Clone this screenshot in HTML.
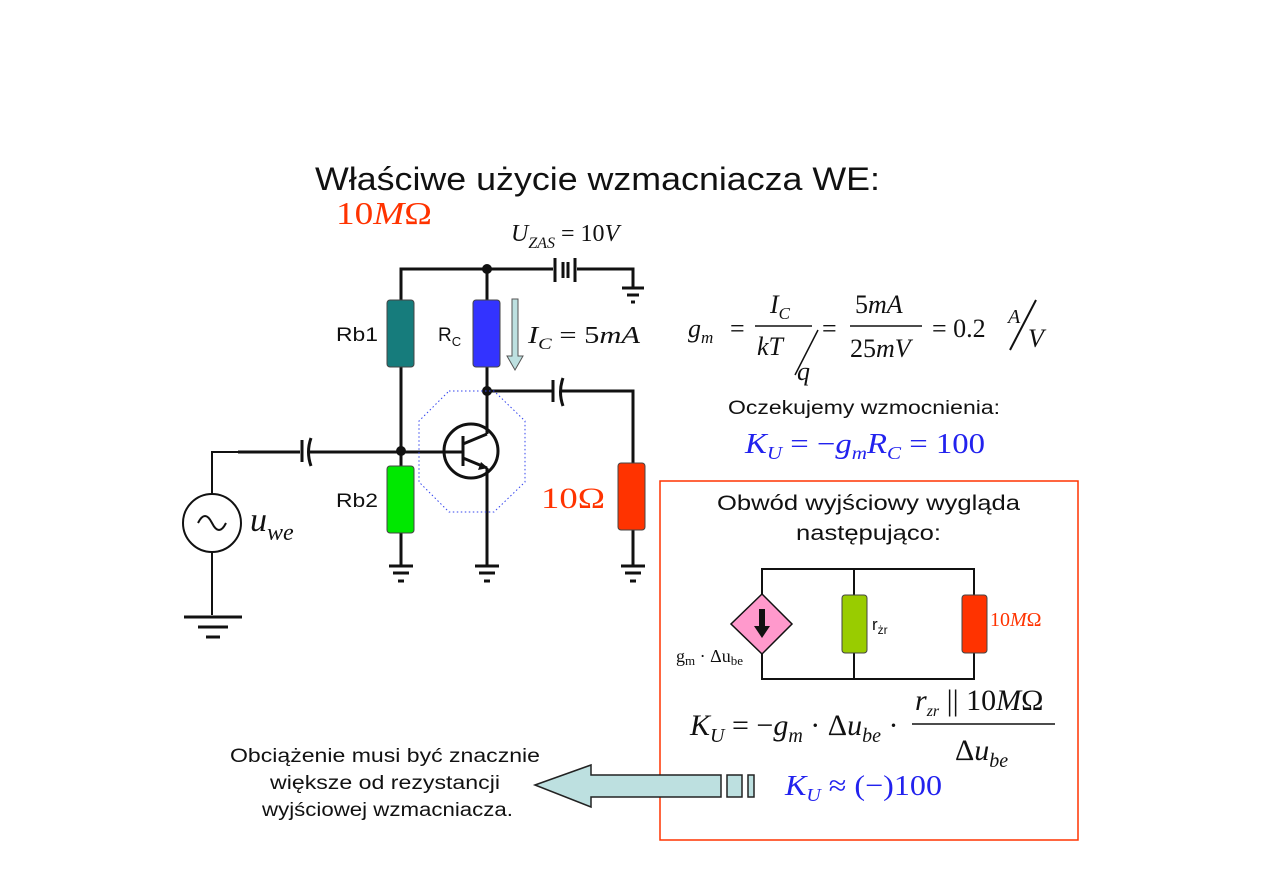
<!DOCTYPE html>
<html><head><meta charset="utf-8"><style>
body{margin:0;background:#fff;}
svg{display:block;}
.s{font-family:"Liberation Sans",sans-serif;}
.r{font-family:"Liberation Serif",serif;}
</style></head><body>
<svg width="1263" height="893" viewBox="0 0 1263 893" xmlns="http://www.w3.org/2000/svg">
<g stroke="#111" stroke-width="3" fill="none">
<polyline points="401,367 401,269 553,269"/>
<polyline points="577,269 633,269 633,288"/>
<line x1="487" y1="269" x2="487" y2="300"/>
<line x1="401" y1="367" x2="401" y2="466"/>
<line x1="487" y1="367" x2="487" y2="420"/>
<polyline points="487,391 553,391"/>
<polyline points="562,391 633,391 633,463"/>
<line x1="633" y1="530" x2="633" y2="565"/>
<line x1="238" y1="452" x2="300" y2="452"/>
<line x1="310" y1="452" x2="463" y2="452"/>
<line x1="401" y1="533" x2="401" y2="565"/>
<line x1="487" y1="480" x2="487" y2="565"/>
</g>
<g stroke="#111" stroke-width="2" fill="none">
<polyline points="238,452 212,452 212,494"/>
<line x1="212" y1="552" x2="212" y2="615"/>
<circle cx="212" cy="523" r="29"/>
<path d="M198,523 q7,-14 14,0 t14,0"/>
</g>
<g stroke="#111" stroke-width="3">
<line x1="555" y1="258" x2="555" y2="282"/><line x1="563" y1="262" x2="563" y2="278"/>
<line x1="568" y1="262" x2="568" y2="278"/><line x1="575" y1="258" x2="575" y2="282"/>
<line x1="302" y1="440" x2="302" y2="462"/><path d="M311,438 q-5,14 0,28" fill="none"/>
<line x1="553" y1="380" x2="553" y2="402"/><path d="M563,378 q-5,14 0,28" fill="none"/>
</g>
<g stroke="#111" stroke-width="3">
<line x1="622" y1="288" x2="644" y2="288"/><line x1="627" y1="295" x2="639" y2="295"/><line x1="631" y1="302" x2="635" y2="302"/>
<line x1="389" y1="566" x2="413" y2="566"/><line x1="393" y1="573" x2="409" y2="573"/><line x1="398" y1="581" x2="404" y2="581"/>
<line x1="475" y1="566" x2="499" y2="566"/><line x1="479" y1="573" x2="495" y2="573"/><line x1="484" y1="581" x2="490" y2="581"/>
<line x1="621" y1="566" x2="645" y2="566"/><line x1="625" y1="573" x2="641" y2="573"/><line x1="630" y1="581" x2="636" y2="581"/>
<line x1="184" y1="617" x2="242" y2="617"/><line x1="198" y1="627" x2="228" y2="627"/><line x1="206" y1="637" x2="220" y2="637"/>
</g>
<g fill="#111"><circle cx="487" cy="269" r="5"/><circle cx="487" cy="391" r="5"/><circle cx="401" cy="451" r="5"/></g>
<rect x="387" y="300" width="27" height="67" rx="3" fill="#167c7c" stroke="#444"/>
<rect x="473" y="300" width="27" height="67" rx="3" fill="#3333ff" stroke="#444"/>
<rect x="387" y="466" width="27" height="67" rx="3" fill="#00e800" stroke="#444"/>
<rect x="618" y="463" width="27" height="67" rx="3" fill="#ff3300" stroke="#444"/>
<polygon points="512,299 518,299 518,356 523,356 515,370 507,356 512,356" fill="#bde0e0" stroke="#555"/>
<circle cx="471" cy="451" r="27" fill="none" stroke="#111" stroke-width="3"/>
<g stroke="#111" stroke-width="3" fill="none">
<line x1="463" y1="436" x2="463" y2="466"/>
<line x1="463" y1="444" x2="487" y2="434"/><line x1="487" y1="434" x2="487" y2="420"/>
<line x1="463" y1="458" x2="487" y2="468"/><line x1="487" y1="468" x2="487" y2="480"/>
</g>
<polygon points="488,468 478,470 481,462" fill="#111"/>
<polygon points="449,391 494,391 525,421 525,482 494,512 449,512 419,482 419,421" fill="none" stroke="#3344ee" stroke-dasharray="1.5,2.5"/>
<text x="315" y="190" class="s" font-size="32" fill="#111" textLength="565" lengthAdjust="spacingAndGlyphs">Właściwe użycie wzmacniacza WE:</text>
<text x="336" y="224" class="r" font-size="32" fill="#ff3300" textLength="96" lengthAdjust="spacingAndGlyphs">10<tspan font-style="italic">M</tspan>Ω</text>
<text x="511" y="241" class="r" font-size="24" fill="#111"><tspan font-style="italic">U</tspan><tspan font-style="italic" font-size="16" dy="7">ZAS</tspan><tspan dy="-7"> = 10</tspan><tspan font-style="italic">V</tspan></text>
<text x="336" y="341" class="s" font-size="19" fill="#111" textLength="42" lengthAdjust="spacingAndGlyphs">Rb1</text>
<text x="438" y="341" class="s" font-size="19" fill="#111">R<tspan font-size="13" dy="5">C</tspan></text>
<text x="528" y="343" class="r" font-size="24" fill="#111" font-style="italic" textLength="112" lengthAdjust="spacingAndGlyphs">I<tspan font-size="16" dy="6">C</tspan><tspan dy="-6" font-style="normal"> = 5</tspan>mA</text>
<text x="336" y="507" class="s" font-size="19" fill="#111" textLength="42" lengthAdjust="spacingAndGlyphs">Rb2</text>
<text x="541" y="508" class="r" font-size="30" fill="#ff3300" textLength="64" lengthAdjust="spacingAndGlyphs">10Ω</text>
<text x="250" y="531" class="r" font-size="34" fill="#111" font-style="italic">u<tspan font-size="24" dy="9">we</tspan></text>
<g class="r" fill="#111" font-size="26">
<text x="688" y="337" font-style="italic">g<tspan font-size="17" dy="6">m</tspan></text>
<text x="730" y="337">=</text>
<text x="770" y="313" font-style="italic">I<tspan font-size="17" dy="6">C</tspan></text>
<line x1="755" y1="326" x2="812" y2="326" stroke="#111" stroke-width="1.5"/>
<text x="757" y="355" font-style="italic">kT</text>
<line x1="795" y1="375" x2="818" y2="330" stroke="#111" stroke-width="1.5"/>
<text x="797" y="380" font-style="italic">q</text>
<text x="822" y="337">=</text>
<text x="855" y="313">5<tspan font-style="italic">mA</tspan></text>
<line x1="850" y1="326" x2="922" y2="326" stroke="#111" stroke-width="1.5"/>
<text x="850" y="357">25<tspan font-style="italic">mV</tspan></text>
<text x="932" y="337">= 0.2</text>
<text x="1008" y="323" font-style="italic" font-size="20">A</text>
<line x1="1010" y1="350" x2="1036" y2="300" stroke="#111" stroke-width="2"/>
<text x="1028" y="347" font-style="italic">V</text>
</g>
<text x="728" y="414" class="s" font-size="19" fill="#111" textLength="272" lengthAdjust="spacingAndGlyphs">Oczekujemy wzmocnienia:</text>
<text x="745" y="453" class="r" font-size="28" fill="#2222ee" textLength="240" lengthAdjust="spacingAndGlyphs"><tspan font-style="italic">K</tspan><tspan font-style="italic" font-size="18" dy="6">U</tspan><tspan dy="-6"> = −</tspan><tspan font-style="italic">g</tspan><tspan font-style="italic" font-size="18" dy="6">m</tspan><tspan font-style="italic" dy="-6">R</tspan><tspan font-style="italic" font-size="18" dy="6">C</tspan><tspan dy="-6"> = 100</tspan></text>
<rect x="660" y="481" width="418" height="359" fill="none" stroke="#ff3300" stroke-width="1.5"/>
<text x="717" y="510" class="s" font-size="21" fill="#111" textLength="303" lengthAdjust="spacingAndGlyphs">Obwód wyjściowy wygląda</text>
<text x="796" y="540" class="s" font-size="21" fill="#111" textLength="145" lengthAdjust="spacingAndGlyphs">następująco:</text>
<g stroke="#111" stroke-width="2" fill="none">
<polyline points="762,595 762,569 974,569 974,595"/>
<polyline points="762,650 762,679 974,679 974,653"/>
<line x1="854" y1="569" x2="854" y2="595"/><line x1="854" y1="653" x2="854" y2="679"/>
</g>
<polygon points="762,594 792,624 762,654 731,624" fill="#ff99cc" stroke="#111" stroke-width="1.5"/>
<polygon points="759,609 765,609 765,626 770,626 762,638 754,626 759,626" fill="#111"/>
<rect x="842" y="595" width="25" height="58" rx="3" fill="#99cc00" stroke="#444"/>
<rect x="962" y="595" width="25" height="58" rx="3" fill="#ff3300" stroke="#444"/>
<text x="872" y="630" class="s" font-size="17" fill="#111">r<tspan font-size="12" dy="4">żr</tspan></text>
<text x="990" y="626" class="r" font-size="20" fill="#ff3300">10<tspan font-style="italic">M</tspan>Ω</text>
<text x="676" y="662" class="r" font-size="18" fill="#111">g<tspan font-size="13" dy="3">m</tspan><tspan dy="-3"> · Δu</tspan><tspan font-size="13" dy="3">be</tspan></text>
<g class="r" fill="#111" font-size="30">
<text x="690" y="735"><tspan font-style="italic">K</tspan><tspan font-style="italic" font-size="20" dy="7">U</tspan><tspan dy="-7"> = −</tspan><tspan font-style="italic">g</tspan><tspan font-style="italic" font-size="20" dy="7">m</tspan><tspan dy="-7"> · Δ</tspan><tspan font-style="italic">u</tspan><tspan font-style="italic" font-size="20" dy="7">be</tspan><tspan dy="-7"> ·</tspan></text>
<text x="915" y="710"><tspan font-style="italic">r</tspan><tspan font-style="italic" font-size="16" dy="6">zr</tspan><tspan dy="-6"> || 10</tspan><tspan font-style="italic">M</tspan>Ω</text>
<line x1="912" y1="724" x2="1055" y2="724" stroke="#111" stroke-width="1.5"/>
<text x="955" y="760">Δ<tspan font-style="italic">u</tspan><tspan font-style="italic" font-size="20" dy="7">be</tspan></text>
</g>
<text x="785" y="795" class="r" font-size="29" fill="#2222ee" textLength="157" lengthAdjust="spacingAndGlyphs"><tspan font-style="italic">K</tspan><tspan font-style="italic" font-size="18" dy="6">U</tspan><tspan dy="-6"> ≈ (−)100</tspan></text>
<polygon points="535,785 591,765 591,775 721,775 721,797 591,797 591,807" fill="#bde0e0" stroke="#222" stroke-width="1.5"/>
<rect x="727" y="775" width="15" height="22" fill="#bde0e0" stroke="#222" stroke-width="1.5"/>
<rect x="748" y="775" width="6" height="22" fill="#bde0e0" stroke="#222" stroke-width="1.5"/>
<g class="s" font-size="19" fill="#111">
<text x="230" y="762" textLength="310" lengthAdjust="spacingAndGlyphs">Obciążenie musi być znacznie</text>
<text x="270" y="789" textLength="230" lengthAdjust="spacingAndGlyphs">większe od rezystancji</text>
<text x="262" y="816" textLength="251" lengthAdjust="spacingAndGlyphs">wyjściowej wzmacniacza.</text>
</g>
</svg>
</body></html>
